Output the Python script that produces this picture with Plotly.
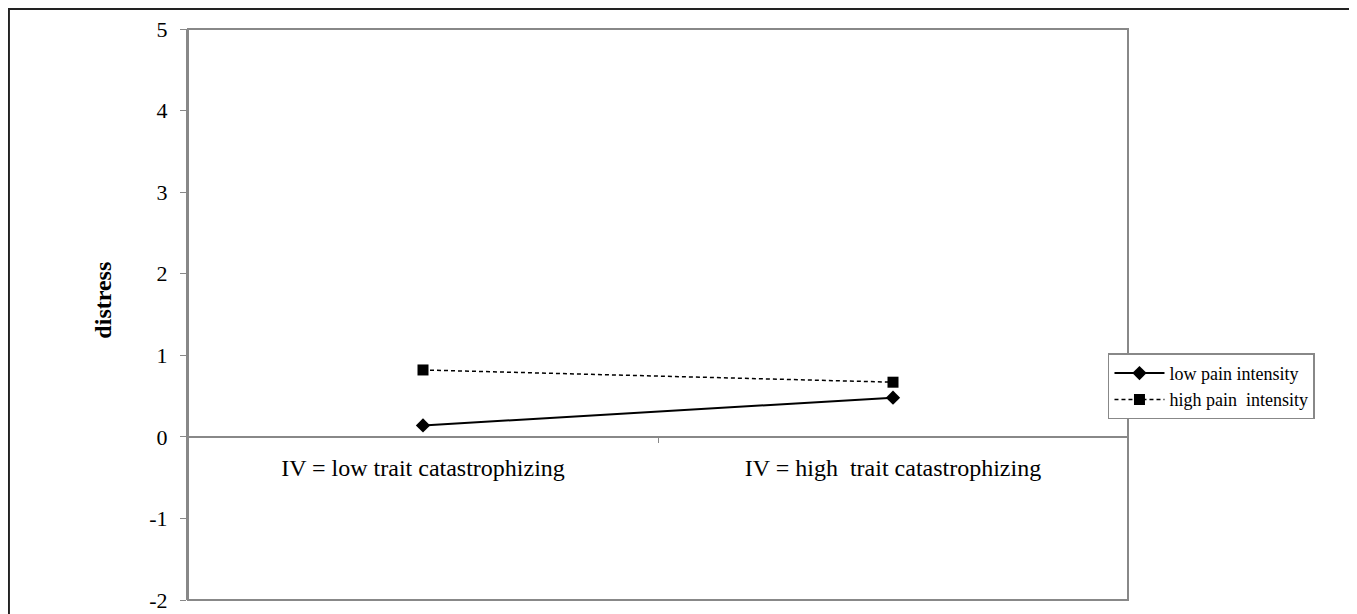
import plotly.graph_objects as go

# values
categories = ['IV = low trait catastrophizing', 'IV = high  trait catastrophizing']
low_pain = [0.14, 0.48]
high_pain = [0.82, 0.67]
y_ticks = [-2, -1, 0, 1, 2, 3, 4, 5]
y_tick_text = ['-2', '-1', '0', '1', '2', '3', '4', '5']

font = 'Liberation Serif, Times New Roman, serif'
axis_gray = '#888888'

fig = go.Figure()
fig.add_trace(go.Scatter(
    x=categories, y=low_pain, name='low pain intensity',
    mode='lines+markers', line=dict(color='black', width=2),
    marker=dict(symbol='diamond', size=11, color='black'),
))
fig.add_trace(go.Scatter(
    x=categories, y=high_pain, name='high pain  intensity',
    mode='lines+markers', line=dict(color='black', width=1.5, dash='4px,3px'),
    marker=dict(symbol='square', size=11, color='black'),
))

# plot area frame and the outer frame round the whole picture
fig.add_shape(type='rect', xref='paper', yref='paper', x0=0, x1=1, y0=0, y1=1,
              line=dict(color=axis_gray, width=2), layer='below')
fig.add_shape(type='rect', xref='paper', yref='paper', x0=-0.1905, x1=1.2415, y0=-0.2, y1=1.035,
              line=dict(color='#222222', width=2), layer='below')

fig.add_annotation(text='<b>distress</b>', xref='paper', yref='paper', x=-0.09, y=0.525,
                   xanchor='center', yanchor='middle',
                   textangle=-90, showarrow=False, font=dict(family=font, size=24, color='black'))

# the page body has an 8px margin, so the figure margins are reduced by 8px
fig.update_layout(
    width=1357, height=614,
    margin=dict(l=180, r=237, t=21, b=22),
    plot_bgcolor='white', paper_bgcolor='white',
    font=dict(family=font, size=24, color='black'),
    showlegend=True,
    legend=dict(x=0.9787, y=0.432, xanchor='left', yanchor='top',
                bordercolor=axis_gray, borderwidth=1.5, bgcolor='white',
                font=dict(family=font, size=18), itemwidth=50, tracegroupgap=0),
    xaxis=dict(
        type='category', range=[-0.5, 1.5], anchor='free', position=2/7,
        showline=True, linecolor=axis_gray, linewidth=1.5, automargin=False,
        ticks='outside', tickson='boundaries', ticklen=5, tickcolor=axis_gray,
        showgrid=False, zeroline=False, ticklabelstandoff=10,
        tickfont=dict(family=font, size=24),
    ),
    yaxis=dict(
        range=[-2, 5], tickvals=y_ticks, ticktext=y_tick_text, automargin=False,
        showline=True, linecolor=axis_gray, linewidth=2,
        ticks='outside', ticklen=6, tickcolor=axis_gray, showgrid=False, zeroline=False,
        tickfont=dict(family=font, size=22), ticklabelstandoff=8,
    ),
)

fig.write_html('out.html')
